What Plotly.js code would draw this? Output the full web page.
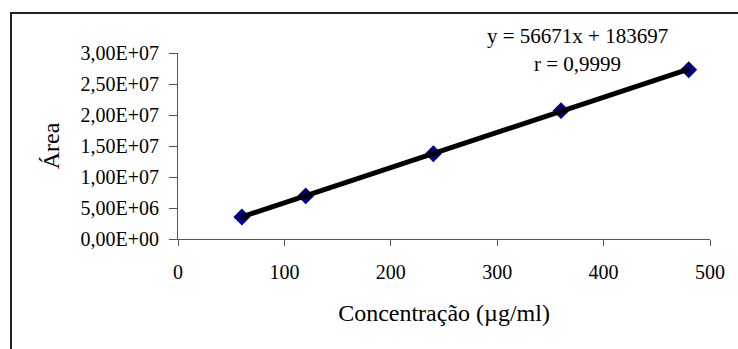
<!DOCTYPE html>
<html>
<head>
<meta charset="utf-8">
<script src="https://cdn.plot.ly/plotly-3.0.1.min.js"></script>
<style>html,body{margin:0;padding:0;background:#fff;}#chart{width:738px;height:349px;}</style>
</head>
<body>
<div id="chart"></div>
<script>
// Data
const concentration = [60, 120, 240, 360, 480];
const area = [3.55e6, 6.95e6, 13.75e6, 20.7e6, 27.3e6];
const trendX = [60, 480];
const trendY = [3584000, 27385777];
const yTickVals = [0, 5e6, 1e7, 1.5e7, 2e7, 2.5e7, 3e7];
const yTickText = ["0,00E+00", "5,00E+06", "1,00E+07", "1,50E+07", "2,00E+07", "2,50E+07", "3,00E+07"];
const xTickVals = [0, 100, 200, 300, 400, 500];
const equationText = "y = 56671x + 183697";
const rText = "r = 0,9999";

const font = "Liberation Serif, Times New Roman, serif";

const traces = [
  {
    x: concentration, y: area, type: "scatter", mode: "markers",
    marker: {symbol: "diamond", size: 13, color: "#000080", line: {width: 0}},
    hoverinfo: "skip", showlegend: false
  },
  {
    x: trendX, y: trendY, type: "scatter", mode: "lines",
    line: {color: "#000000", width: 5},
    hoverinfo: "skip", showlegend: false
  }
];

const layout = {
  width: 738, height: 349,
  margin: {l: 178, r: 28, t: 53, b: 110, pad: 0},
  paper_bgcolor: "#ffffff", plot_bgcolor: "#ffffff",
  font: {family: font, color: "#000000", size: 20},
  showlegend: false,
  xaxis: {
    range: [0, 500], tickvals: xTickVals, ticktext: xTickVals.map(String),
    showgrid: false, zeroline: false, showline: true, linecolor: "#555555", linewidth: 1,
    ticks: "outside", ticklen: 6, tickcolor: "#555555", tickwidth: 1,
    tickfont: {family: font, size: 20, color: "#000"},
    ticklabelstandoff: 9,
    title: {text: "Concentração (µg/ml)", font: {family: font, size: 24, color: "#000"}, standoff: 22}
  },
  yaxis: {
    range: [0, 3e7], tickvals: yTickVals, ticktext: yTickText,
    showgrid: false, zeroline: false, showline: true, linecolor: "#555555", linewidth: 1,
    ticks: "outside", ticklen: 8, tickcolor: "#555555", tickwidth: 1,
    tickfont: {family: font, size: 20, color: "#000"},
    ticklabelstandoff: 6,
    title: {text: "Área", font: {family: font, size: 24, color: "#000"}, standoff: 14}
  },
  annotations: [
    {text: equationText, xref: "paper", yref: "paper", x: (577 - 178) / 532, y: (239 - 36) / 186,
     xanchor: "center", yanchor: "middle", showarrow: false, font: {family: font, size: 21, color: "#000"}},
    {text: rText, xref: "paper", yref: "paper", x: (577 - 178) / 532, y: (239 - 64) / 186,
     xanchor: "center", yanchor: "middle", showarrow: false, font: {family: font, size: 21, color: "#000"}}
  ],
  shapes: [
    {type: "rect", xref: "paper", yref: "paper",
     x0: (11 - 178) / 532, x1: (760 - 178) / 532,
     y0: (239 - 370) / 186, y1: (239 - 13) / 186,
     line: {color: "#222222", width: 2}, fillcolor: "rgba(0,0,0,0)", layer: "below"}
  ]
};

Plotly.newPlot("chart", traces, layout, {staticPlot: true, displayModeBar: false});
</script>
</body>
</html>
